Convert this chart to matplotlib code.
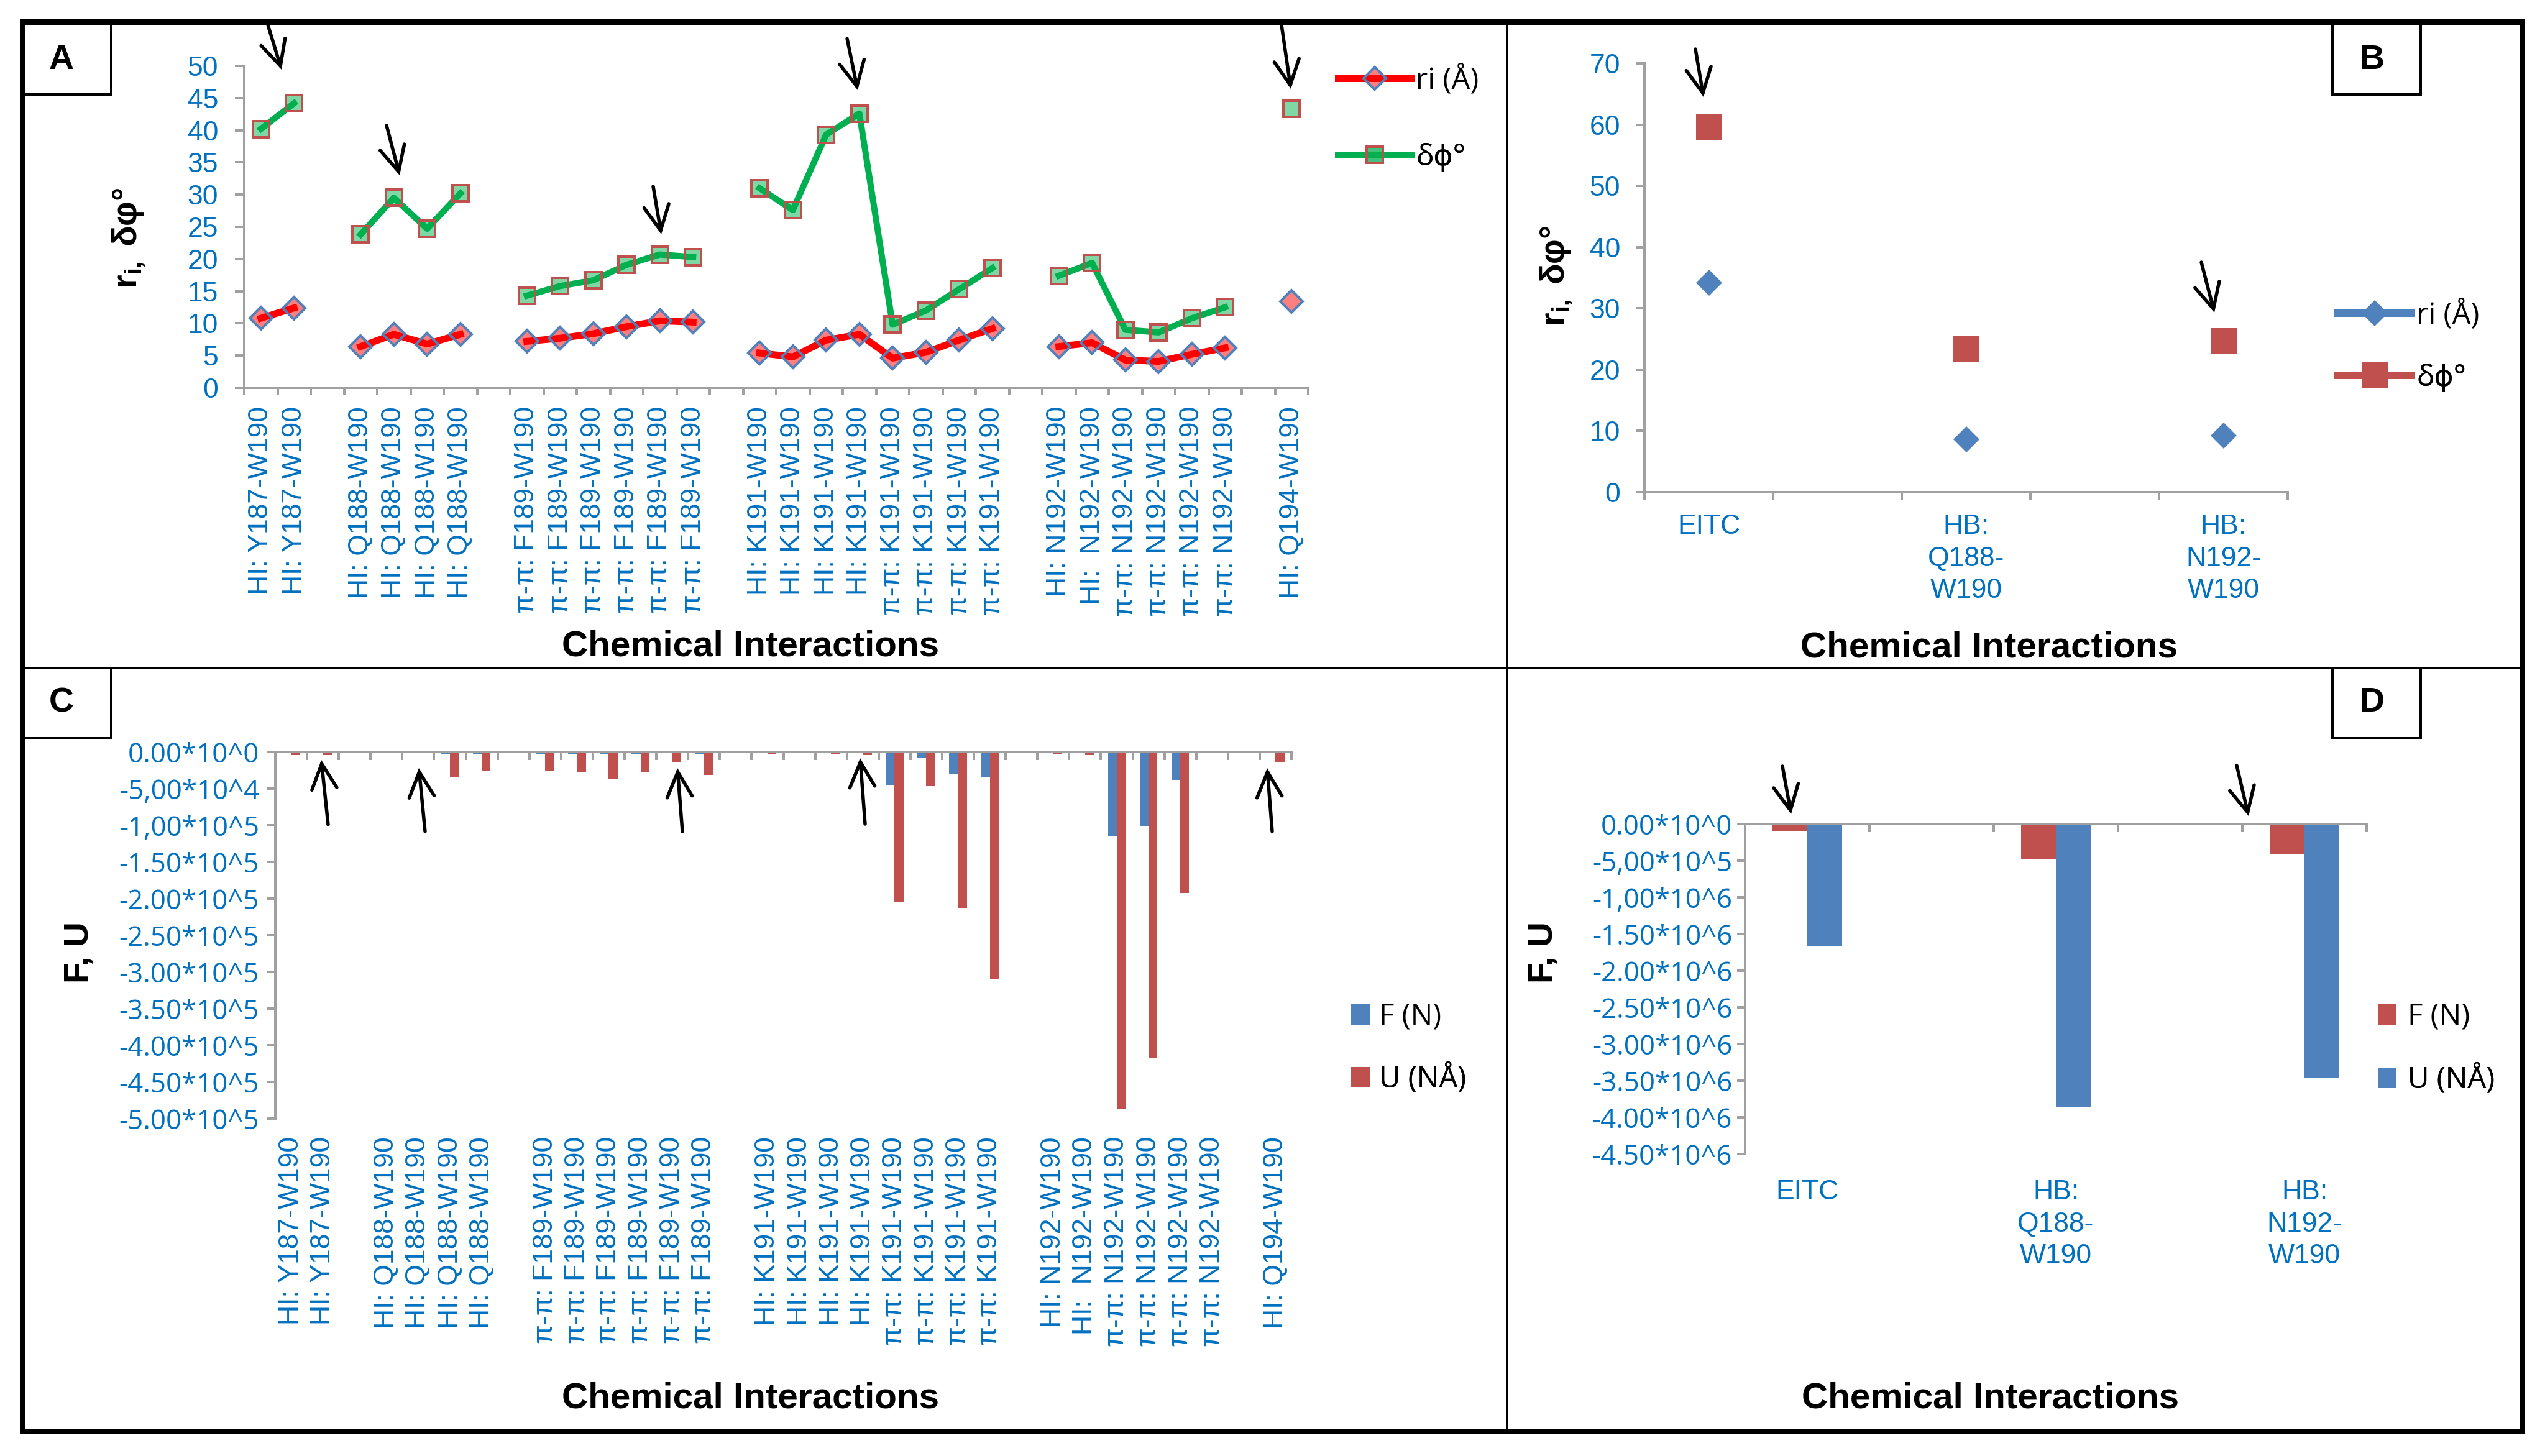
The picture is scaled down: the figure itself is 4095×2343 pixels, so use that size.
import numpy as np
import matplotlib
matplotlib.use('Agg')
import matplotlib.pyplot as plt
from matplotlib.patches import Rectangle, FancyArrowPatch, ArrowStyle
from matplotlib.lines import Line2D

nan = np.nan

# ------------------------------------------------------------------ DATA
cats_A = (['HI: Y187-W190'] * 2 + [''] +
          ['HI: Q188-W190'] * 4 + [''] +
          ['π-π: F189-W190'] * 6 + [''] +
          ['HI: K191-W190'] * 4 + ['π-π: K191-W190'] * 4 + [''] +
          ['HI: N192-W190', 'HI:  N192-W190'] + ['π-π: N192-W190'] * 4 + [''] +
          ['HI: Q194-W190'])
ri_A = [10.8, 12.4, nan,
        6.4, 8.3, 6.8, 8.3, nan,
        7.2, 7.7, 8.4, 9.5, 10.4, 10.2, nan,
        5.4, 4.8, 7.4, 8.3, 4.6, 5.5, 7.4, 9.2, nan,
        6.4, 7.0, 4.3, 4.1, 5.2, 6.2, nan,
        13.4]
dphi_A = [40.2, 44.2, nan,
          23.8, 29.5, 24.7, 30.2, nan,
          14.3, 15.8, 16.7, 19.1, 20.7, 20.3, nan,
          31.0, 27.6, 39.3, 42.6, 9.8, 12.0, 15.3, 18.6, nan,
          17.4, 19.4, 9.0, 8.6, 10.8, 12.5, nan,
          43.3]

cats_B = ['EITC', '', 'HB:\nQ188-\nW190', '', 'HB:\nN192-\nW190']
ri_B = [34.2, nan, 8.6, nan, 9.2]
dphi_B = [59.7, nan, 23.3, nan, 24.7]

cats_C = cats_A
F_C = [-500, -500, nan,
       -800, -1000, -3000, -2500, nan,
       -2500, -3000, -3500, -2500, -2000, -2500, nan,
       -1000, -800, -1000, -1500, -44700, -8300, -29600, -35000, nan,
       -800, -800, -114000, -102000, -38000, -1000, nan,
       -600]
U_C = [-4000, -4000, nan,
       -1500, -1500, -34400, -26000, nan,
       -26200, -27500, -37100, -26800, -14500, -31700, nan,
       -2500, -1000, -3000, -4500, -204000, -47000, -213000, -310000, nan,
       -3500, -4000, -487000, -417000, -192000, -1500, nan,
       -13700]

cats_D = cats_B
F_D = [-0.9e5, nan, -4.8e5, nan, -4.1e5]
U_D = [-1.67e6, nan, -3.86e6, nan, -3.47e6]

yticks_A = list(range(0, 51, 5))
yticks_B = list(range(0, 71, 10))
yticks_C = [0, -5e4, -1e5, -1.5e5, -2e5, -2.5e5, -3e5, -3.5e5, -4e5, -4.5e5, -5e5]
ylabels_C = ['0.00*10^0', '-5,00*10^4', '-1,00*10^5', '-1.50*10^5', '-2.00*10^5',
             '-2.50*10^5', '-3.00*10^5', '-3.50*10^5', '-4.00*10^5', '-4.50*10^5',
             '-5.00*10^5']
yticks_D = [0, -5e5, -1e6, -1.5e6, -2e6, -2.5e6, -3e6, -3.5e6, -4e6, -4.5e6]
ylabels_D = ['0.00*10^0', '-5,00*10^5', '-1,00*10^6', '-1.50*10^6', '-2.00*10^6',
             '-2.50*10^6', '-3.00*10^6', '-3.50*10^6', '-4.00*10^6', '-4.50*10^6']

# ------------------------------------------------------------------ STYLE
W, H, DPI = 4095, 2343, 100
plt.rcParams['font.family'] = ['Liberation Sans', 'DejaVu Sans']
plt.rcParams['mathtext.fontset'] = 'custom'
plt.rcParams['mathtext.rm'] = 'Liberation Sans'
plt.rcParams['mathtext.bf'] = 'Liberation Sans:bold'
plt.rcParams['mathtext.it'] = 'Liberation Sans:italic'

PT = 72.0 / DPI


def P(px):
    return px * PT


def rect(x0, y0, x1, y1):
    return [x0 / W, 1 - y1 / H, (x1 - x0) / W, (y1 - y0) / H]


def fp(x, y):
    return (x / W, 1 - y / H)


AXC = '#A0A0A0'
BLUE_T = '#0070C0'
CAL = ['Open Sans', 'DejaVu Sans']
ARIAL = ['Liberation Sans', 'DejaVu Sans']
C_BLUE = '#4F81BD'
C_RED = '#C0504D'
TICK_FS = 32
LEG_FS = 34
LEG_PX = LEG_FS / PT

fig = plt.figure(figsize=(W / DPI, H / DPI), dpi=DPI)
fig.patch.set_facecolor('white')


def style_spines(ax, on):
    for s in ['left', 'right', 'top', 'bottom']:
        if s in on:
            ax.spines[s].set_color(AXC)
            ax.spines[s].set_linewidth(P(4))
        else:
            ax.spines[s].set_visible(False)
    ax.set_facecolor('none')


def add_leg(ax, handle, label, x_px, y_px, hl, htp, hh=0.7):
    leg = ax.legend([handle], [label], loc='center left',
                    bbox_to_anchor=fp(x_px, y_px), bbox_transform=fig.transFigure,
                    frameon=False, borderpad=0, borderaxespad=0,
                    handlelength=hl, handleheight=hh, handletextpad=htp,
                    numpoints=1, prop={'family': CAL, 'size': LEG_FS})
    ax.add_artist(leg)
    return leg


def arrow(tail, tip):
    st = ArrowStyle('->', head_length=2.9, head_width=1.45)
    a = FancyArrowPatch(fp(*tail), fp(*tip), transform=fig.transFigure,
                        arrowstyle=st, mutation_scale=10, lw=P(5.5),
                        color='black', shrinkA=0, shrinkB=0, zorder=20,
                        capstyle='round', joinstyle='miter')
    fig.add_artist(a)


# ------------------------------------------------------------------ PANEL A
axA = fig.add_axes(rect(393, 106, 2105, 624))
xA = np.arange(len(cats_A)) + 0.5
lnA_ri, = axA.plot(xA, ri_A, color='#FF0000', lw=P(11), marker='D', ms=P(25),
                   mfc=(1, 0, 0, 0.5), mec=C_BLUE, mew=P(4), zorder=3, clip_on=False)
lnA_dp, = axA.plot(xA, dphi_A, color='#00B050', lw=P(10), marker='s', ms=P(27),
                   mfc=(0, 0.69, 0.31, 0.5), mec=C_RED, mew=P(4), zorder=3, clip_on=False)
axA.set_xlim(0, len(cats_A))
axA.set_ylim(0, 50)
axA.set_yticks(yticks_A)
axA.set_yticklabels([str(v) for v in yticks_A], fontsize=TICK_FS, color=BLUE_T)
axA.set_xticks(np.arange(0, len(cats_A) + 1))
axA.set_xticks(xA, minor=True)
axA.set_xticklabels(cats_A, minor=True, rotation=90, fontsize=TICK_FS, color=BLUE_T)
axA.tick_params(axis='x', which='major', labelbottom=False, direction='out',
                length=P(12), width=P(4), color=AXC)
axA.tick_params(axis='x', which='minor', length=0, pad=P(30))
axA.tick_params(axis='y', direction='out', length=P(15), width=P(4), color=AXC, pad=P(27))
style_spines(axA, ['left', 'bottom'])
add_leg(axA, lnA_ri, 'ri (Å)', 2153, 129, 118 / LEG_PX, 7 / LEG_PX)
add_leg(axA, lnA_dp, 'δϕ°', 2153, 253, 118 / LEG_PX, 7 / LEG_PX)

# ------------------------------------------------------------------ PANEL B
axB = fig.add_axes(rect(2646, 102, 3681, 792))
xB = np.arange(len(cats_B)) + 0.5
lnB_ri, = axB.plot(xB, ri_B, color=C_BLUE, lw=P(12), marker='D', ms=P(30),
                   mfc=C_BLUE, mec=C_BLUE, mew=0, zorder=3)
lnB_dp, = axB.plot(xB, dphi_B, color=C_RED, lw=P(12), marker='s', ms=P(43),
                   mfc=C_RED, mec=C_RED, mew=0, zorder=3)
axB.set_xlim(0, len(cats_B))
axB.set_ylim(0, 70)
axB.set_yticks(yticks_B)
axB.set_yticklabels([str(v) for v in yticks_B], fontsize=TICK_FS, color=BLUE_T)
axB.set_xticks(np.arange(0, len(cats_B) + 1))
axB.set_xticks(xB, minor=True)
axB.set_xticklabels(cats_B, minor=True, fontsize=TICK_FS, color=BLUE_T)
for t in axB.get_xticklabels(minor=True):
    t.set_linespacing(1.33)
    t.set_verticalalignment('top')
axB.tick_params(axis='x', which='major', labelbottom=False, direction='out',
                length=P(13), width=P(4), color=AXC)
axB.tick_params(axis='x', which='minor', length=0, pad=P(35))
axB.tick_params(axis='y', direction='out', length=P(14), width=P(4), color=AXC, pad=P(25))
style_spines(axB, ['left', 'bottom'])
add_leg(axB, lnB_ri, 'ri (Å)', 3762, 507, 118 / LEG_PX, 8 / LEG_PX)
add_leg(axB, lnB_dp, 'δϕ°', 3762, 608, 118 / LEG_PX, 8 / LEG_PX)

# ------------------------------------------------------------------ PANEL C
axC = fig.add_axes(rect(443, 1210, 2078, 1800))
xC = np.arange(len(cats_C)) + 0.5
bw = 0.28
bC_F = axC.bar(xC - bw / 2, F_C, width=bw, color=C_BLUE, zorder=1)
bC_U = axC.bar(xC + bw / 2, U_C, width=bw, color=C_RED, zorder=1)
axC.set_xlim(0, len(cats_C))
axC.set_ylim(-5e5, 0)
axC.set_yticks(yticks_C)
axC.set_yticklabels(ylabels_C, fontsize=31.5, color=BLUE_T, fontfamily=CAL)
axC.set_xticks(np.arange(0, len(cats_C) + 1))
axC.set_xticks(xC, minor=True)
axC.set_xticklabels(cats_C, minor=True, rotation=90, fontsize=TICK_FS, color=BLUE_T)
axC.tick_params(axis='x', which='major', top=True, bottom=False, labeltop=False,
                labelbottom=False, direction='in', length=P(13), width=P(4), color=AXC)
axC.tick_params(axis='x', which='minor', top=False, bottom=True, length=0, pad=P(29))
axC.tick_params(axis='y', direction='out', length=P(13), width=P(4), color=AXC, pad=P(13))
style_spines(axC, ['left', 'top'])
add_leg(axC, bC_F, 'F (N)', 2174, 1636, 30 / LEG_PX, 15 / LEG_PX, hh=33 / LEG_PX)
add_leg(axC, bC_U, 'U (NÅ)', 2174, 1736, 30 / LEG_PX, 15 / LEG_PX, hh=33 / LEG_PX)

# ------------------------------------------------------------------ PANEL D
axD = fig.add_axes(rect(2808, 1326, 3808, 1857))
xD = np.arange(len(cats_D)) + 0.5
bD_F = axD.bar(xD - bw / 2, F_D, width=bw, color=C_RED, zorder=1)
bD_U = axD.bar(xD + bw / 2, U_D, width=bw, color=C_BLUE, zorder=1)
axD.set_xlim(0, len(cats_D))
axD.set_ylim(-4.5e6, 0)
axD.set_yticks(yticks_D)
axD.set_yticklabels(ylabels_D, fontsize=31.5, color=BLUE_T, fontfamily=CAL)
axD.set_xticks(np.arange(0, len(cats_D) + 1))
axD.set_xticks(xD, minor=True)
axD.set_xticklabels(cats_D, minor=True, fontsize=TICK_FS, color=BLUE_T)
for t in axD.get_xticklabels(minor=True):
    t.set_linespacing(1.33)
    t.set_verticalalignment('top')
axD.tick_params(axis='x', which='major', top=True, bottom=False, labeltop=False,
                labelbottom=False, direction='in', length=P(13), width=P(4), color=AXC)
axD.tick_params(axis='x', which='minor', top=False, bottom=True, length=0, pad=P(41))
axD.tick_params(axis='y', direction='out', length=P(13), width=P(4), color=AXC, pad=P(8))
style_spines(axD, ['left', 'top'])
add_leg(axD, bD_F, 'F (N)', 3827, 1636, 29 / LEG_PX, 18 / LEG_PX, hh=33 / LEG_PX)
add_leg(axD, bD_U, 'U (NÅ)', 3827, 1737, 29 / LEG_PX, 18 / LEG_PX, hh=33 / LEG_PX)

# ------------------------------------------------------------------ TEXT
for (x, y) in [(1207, 1055), (3200, 1057), (1207, 2266), (3202, 2266)]:
    fig.text(*fp(x, y), 'Chemical Interactions', fontsize=42, fontweight='bold',
             ha='center', va='baseline')
ylab_r = r'r$_{\mathbf{i,}}$ δφ°'
fig.text(*fp(208, 383), ylab_r, fontsize=40, fontweight='bold', rotation=90,
         ha='center', va='center')
fig.text(*fp(2505, 444), ylab_r, fontsize=40, fontweight='bold', rotation=90,
         ha='center', va='center')
fig.text(*fp(128, 1533), 'F, U', fontsize=40, fontweight='bold', rotation=90,
         ha='center', va='center')
fig.text(*fp(2484, 1533), 'F, U', fontsize=40, fontweight='bold', rotation=90,
         ha='center', va='center')

# panel letters
for (x0, y0, x1, y1, lab, cx, cy) in [(37, 37, 179, 152, 'A', 99, 97),
                                       (3753, 37, 3895, 152, 'B', 3816, 97),
                                       (37, 1075, 179, 1188, 'C', 99, 1131),
                                       (3753, 1075, 3895, 1188, 'D', 3816, 1131)]:
    fig.add_artist(Rectangle(fp(x0, y1), (x1 - x0) / W, (y1 - y0) / H,
                             transform=fig.transFigure, fill=False, ec='black',
                             lw=P(4), zorder=15))
    fig.text(*fp(cx, cy), lab, fontsize=40, fontweight='bold', ha='center',
             va='center', zorder=16)

# frame & dividers
fig.add_artist(Rectangle(fp(36, 2303), (4058 - 36) / W, (2303 - 35) / H,
                         transform=fig.transFigure, fill=False, ec='black',
                         lw=P(9), zorder=18))
fig.add_artist(Line2D([36 / W, 4058 / W], [1 - 1075 / H, 1 - 1075 / H],
                      transform=fig.transFigure, color='black', lw=P(4), zorder=17))
fig.add_artist(Line2D([2425 / W, 2425 / W], [1 - 35 / H, 1 - 2303 / H],
                      transform=fig.transFigure, color='black', lw=P(4), zorder=17))

# arrows (annotations)
for tail, tip in [((431, 40), (453, 112)), ((622, 202), (643, 282)),
                  ((1051, 300), (1064, 377)), ((1363, 62), (1380, 145)),
                  ((2062, 40), (2077, 143)),
                  ((2728, 79), (2741, 156)), ((3542, 422), (3563, 503)),
                  ((528, 1327), (517, 1223)), ((684, 1338), (674, 1236)),
                  ((1098, 1338), (1090, 1236)), ((1392, 1326), (1384, 1220)),
                  ((2047, 1338), (2039, 1236)),
                  ((2868, 1233), (2882, 1310)), ((3599, 1232), (3618, 1313))]:
    arrow(tail, tip)

fig.savefig('out.png', dpi=DPI)
